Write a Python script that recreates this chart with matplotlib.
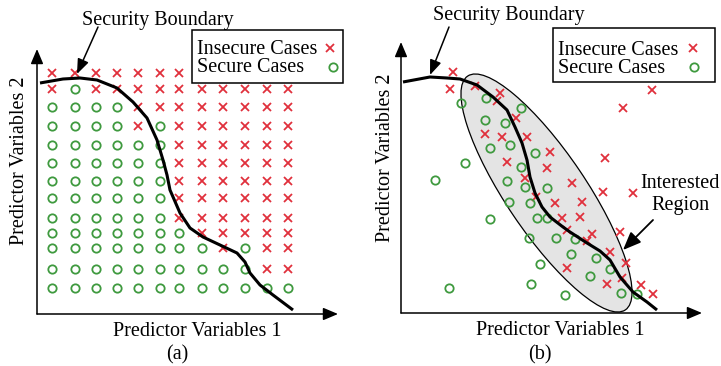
import numpy as np
import matplotlib
matplotlib.use("Agg")
import matplotlib.pyplot as plt
from matplotlib.patches import Ellipse, Rectangle

plt.rcParams['font.family'] = ['Liberation Serif', 'DejaVu Serif']

# ---- panel (a): regular grid of cases ----
a_cols = [1.5, 3.8, 5.9, 8.0, 10.1, 12.3, 14.2, 16.5, 18.6, 20.8, 23.0, 25.1]
a_rows = [24.1, 22.5, 20.7, 18.8, 16.9, 15.1, 13.3, 11.6, 9.6, 8.1, 6.6, 4.5, 2.6]
# x = insecure, o = secure, . = hidden under legend
a_grid = [
    "xxxxxxx.....",
    "xoxxxxxxxxxx",
    "ooooxxxxxxxx",
    "ooooxoxxxxxx",
    "ooooooxxxxxx",
    "ooooooxxxxxx",
    "ooooooxxxxxx",
    "ooooooxxxxxx",
    "ooooooxxxxxx",
    "oooooooxxxxx",
    "ooooooooxoxx",
    "ooooooooooxx",
    "oooooooooooo",
]
a_bound_x = [0.3, 2.6, 4.3, 6.0, 8.0, 9.6, 11.0, 12.0, 12.6, 13.0, 13.3, 14.3,
             15.3, 16.6, 18.3, 20.0, 20.8, 21.3, 22.3, 23.6, 25.6]
a_bound_y = [23.1, 23.5, 23.6, 23.4, 22.6, 21.2, 19.6, 17.4, 15.4, 13.9, 12.4, 10.1,
             8.6, 7.7, 6.9, 6.1, 5.2, 4.1, 2.9, 1.9, 0.4]

# ---- panel (b): scattered cases ----
b_insec_x = [5.2, 4.9, 7.4, 9.9, 9.6, 11.5, 8.4, 10.1, 12.6, 14.9, 10.6, 14.6, 12.4,
             17.1, 13.5, 20.2, 23.2, 15.4, 18.1, 16.1, 17.9, 16.6, 19.1, 21.9, 18.6,
             20.9, 22.5, 16.6, 22.1, 20.6, 24.0, 25.2, 25.1, 22.2, 20.4]
b_insec_y = [24.1, 22.4, 22.7, 22.0, 21.2, 19.5, 17.9, 17.6, 17.6, 16.1, 15.1, 14.5, 13.5,
             13.0, 11.6, 12.1, 12.0, 11.0, 11.1, 9.5, 9.6, 8.3, 7.9, 8.1, 7.2,
             6.1, 5.0, 4.5, 3.5, 2.9, 2.8, 1.9, 22.3, 20.5, 15.5]
b_sec_x = [6.0, 8.5, 12.0, 8.4, 10.4, 8.9, 10.9, 13.4, 6.4, 12.0, 3.4, 10.6, 12.4, 14.6,
           10.8, 12.9, 8.9, 13.6, 14.6, 12.8, 15.5, 17.4, 17.0, 19.5, 13.9, 20.9,
           18.9, 13.0, 4.8, 16.4, 22.0, 23.6]
b_sec_y = [21.0, 21.5, 20.5, 19.3, 19.0, 16.5, 16.8, 16.0, 15.0, 14.6, 13.3, 13.2, 12.6, 12.5,
           11.1, 11.0, 9.4, 9.5, 9.5, 7.5, 7.5, 7.4, 5.9, 5.5, 4.9, 4.4,
           3.7, 2.9, 2.5, 1.8, 2.0, 1.9]
b_bound_x = [0.2, 2.9, 4.6, 5.9, 7.6, 9.2, 10.6, 11.4, 12.1, 12.6, 12.9, 13.4, 14.1,
             14.9, 16.2, 16.9, 18.6, 19.9, 20.9, 21.9, 23.2, 24.6, 25.6]
b_bound_y = [23.1, 23.6, 23.5, 23.4, 22.8, 21.6, 20.3, 18.6, 17.0, 15.3, 13.6, 12.0, 10.6,
             9.6, 8.6, 8.1, 7.0, 6.2, 5.3, 3.6, 2.1, 1.1, 0.3]

RED = '#e0303c'
GREEN = '#3f9a3f'
FS = 14.5

fig = plt.figure(figsize=(7.21, 3.66), dpi=100)
ax_a = fig.add_axes([0, 0, 360 / 721, 1])
ax_b = fig.add_axes([360 / 721, 0, 361 / 721, 1])
ax_a.set_xlim(-3.7, 32.3)
ax_a.set_ylim(-5.2, 31.4)
ax_b.set_xlim(-4.1, 32.0)
ax_b.set_ylim(-5.3, 31.3)


def draw_axes(ax, xtip, ytip):
    head = dict(arrowstyle='-|>,head_length=0.9,head_width=0.38', color='black',
                lw=1.1, shrinkA=0, shrinkB=0, mutation_scale=10)
    ax.annotate('', xy=(xtip, 0), xytext=(0, 0), arrowprops=head)
    ax.annotate('', xy=(0, ytip), xytext=(0, 0), arrowprops=head)


def draw_legend(ax, box, tx, tys, mx, mys):
    x0, x1, y0, y1 = box
    ax.add_patch(Rectangle((x0, y0), x1 - x0, y1 - y0, fill=True, facecolor='white',
                           edgecolor='black', lw=1.1, zorder=5))
    ax.text(tx, tys[0], 'Insecure Cases', fontsize=FS, va='baseline', zorder=6)
    ax.text(tx, tys[1], 'Secure Cases', fontsize=FS, va='baseline', zorder=6)
    ax.plot([mx[0]], [mys[0]], 'x', color=RED, ms=5.5, mew=1.3, zorder=6)
    ax.plot([mx[1]], [mys[1]], 'o', mfc='none', mec=GREEN, ms=6, mew=1.3, zorder=6)


def label_arrow(ax, start, end, lw=1.1, hl=0.9, hw=0.35):
    ax.annotate('', xy=end, xytext=start,
                arrowprops=dict(arrowstyle='-|>,head_length=%s,head_width=%s' % (hl, hw),
                                color='black', lw=lw, shrinkA=0, shrinkB=0,
                                mutation_scale=10))


for ax in (ax_a, ax_b):
    ax.set_axis_off()

# panel (a)
ins_x, ins_y, sec_x, sec_y = [], [], [], []
for r, line in zip(a_rows, a_grid):
    for c, ch in zip(a_cols, line):
        if ch == 'x':
            ins_x.append(c)
            ins_y.append(r)
        elif ch == 'o':
            sec_x.append(c)
            sec_y.append(r)
ax_a.plot(ins_x, ins_y, 'x', color=RED, ms=5.5, mew=1.3, zorder=2)
ax_a.plot(sec_x, sec_y, 'o', mfc='none', mec=GREEN, ms=6, mew=1.3, zorder=2)
ax_a.plot(a_bound_x, a_bound_y, color='black', lw=2.2, solid_capstyle='butt',
          solid_joinstyle='round', zorder=3)
draw_axes(ax_a, 30.1, 26.5)
draw_legend(ax_a, (15.5, 30.6, 23.1, 28.4), 16.0, (26.0, 24.2), (29.3, 29.6), (26.6, 24.7))
ax_a.text(12.05, 28.9, 'Security Boundary', fontsize=FS, ha='center', va='baseline')
label_arrow(ax_a, (6.1, 28.7), (4.0, 24.0))
ax_a.text(16.0, -2.2, 'Predictor Variables 1', fontsize=FS, ha='center', va='baseline')
ax_a.text(14.0, -4.5, '(a)', fontsize=FS, ha='center', va='baseline')
ax_a.text(-1.7, 15.3, 'Predictor Variables 2', fontsize=FS, rotation=90,
          ha='center', va='center')

# panel (b)
ax_b.add_patch(Ellipse((14.55, 12.0), 28.2, 8.0, angle=-56, facecolor='#e4e4e4',
                       edgecolor='black', lw=0.9, zorder=1))
ax_b.plot(b_insec_x, b_insec_y, 'x', color=RED, ms=5.5, mew=1.3, zorder=2)
ax_b.plot(b_sec_x, b_sec_y, 'o', mfc='none', mec=GREEN, ms=6, mew=1.3, zorder=2)
ax_b.plot(b_bound_x, b_bound_y, color='black', lw=2.2, solid_capstyle='butt',
          solid_joinstyle='round', zorder=3)
draw_axes(ax_b, 30.1, 27.1)
draw_legend(ax_b, (15.2, 31.4, 23.1, 28.5), 15.7, (25.8, 24.0), (29.2, 29.3), (26.5, 24.6))
ax_b.text(10.8, 29.3, 'Security Boundary', fontsize=FS, ha='center', va='baseline')
label_arrow(ax_b, (4.8, 28.6), (2.9, 23.8))
ax_b.text(27.9, 12.5, 'Interested', fontsize=FS, ha='center', va='baseline')
ax_b.text(27.9, 10.3, 'Region', fontsize=FS, ha='center', va='baseline')
label_arrow(ax_b, (25.2, 9.3), (22.2, 6.3), lw=1.3, hl=1.1, hw=0.45)
ax_b.text(15.9, -2.2, 'Predictor Variables 1', fontsize=FS, ha='center', va='baseline')
ax_b.text(13.9, -4.6, '(b)', fontsize=FS, ha='center', va='baseline')
ax_b.text(-1.5, 15.5, 'Predictor Variables 2', fontsize=FS, rotation=90,
          ha='center', va='center')

fig.savefig('out.png', dpi=100)
